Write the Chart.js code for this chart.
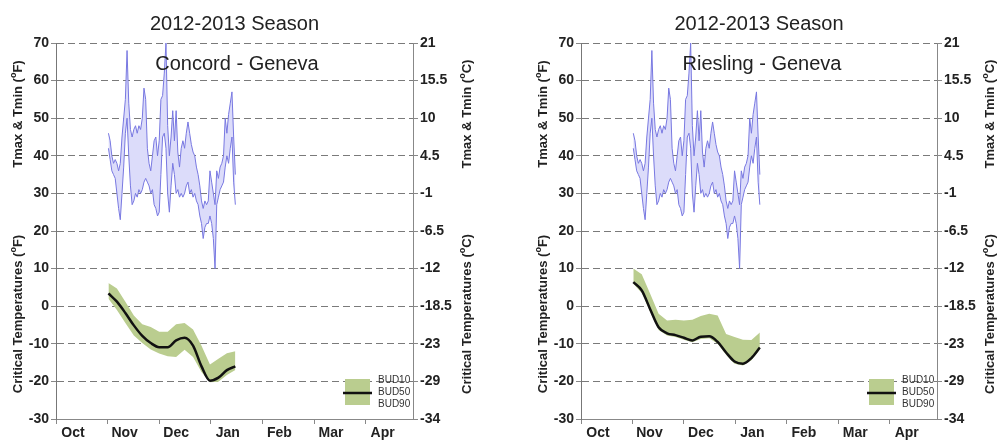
<!DOCTYPE html>
<html>
<head>
<meta charset="utf-8">
<script src="https://cdn.jsdelivr.net/npm/chart.js@4.4.1/dist/chart.umd.min.js"></script>
<style>
  html, body { margin: 0; padding: 0; background: #fff; }
  .box { position: absolute; top: 0; height: 440px; }
</style>
</head>
<body>
<div class="box" style="left:0;width:500px"><canvas id="concord"></canvas></div>
<div class="box" style="left:500px;width:499px"><canvas id="riesling"></canvas></div>
<script>
// daily air temperature at Geneva, first value = Nov 1 (day 31 after Oct 1)
const firstDay = 31
const tmax = [46,44,40,38,39,38,36,38,45,50, 55,68,54,47,45,47,48,46,48,47,
              50,58,55,42,38,36,40,44,45,40, 44,55,56,62,70,48,40,45,52,44,
              52,41,37,42,44,42,46,49,46,43, 41,40,37,35,32,28,26,28,27,28,
              36,33,30,27,36,34,37,38,40,50, 46,51,54,57,45,35]
const tmin = [42,39,36,35,34,30,26,23,30,37, 46,50,40,32,27,28,30,29,31,30,
              31,33,34,33,32,30,31,27,26,24, 25,35,45,46,42,30,25,32,38,35,
              30,31,29,30,29,30,32,33,30,31, 29,30,28,27,24,22,18,21,22,22,
              24,22,18,10,27,29,31,32,33,37, 40,38,42,45,33,27]

// critical temperatures (F), sampled days after Oct 1
const critDays = [31,36,41,46,51,56,61,66,71,76,81,86,91,96,101,106]
const concordBud10 = [6.2,4.7,1.2,-2.5,-4.8,-5.5,-6.8,-6.8,-4.8,-4.5,-6.2,-10.5,-15.5,-14.0,-12.5,-12.0]
const concordBud50 = [3.4,1.2,-1.8,-5.1,-7.9,-9.8,-10.9,-10.9,-9.1,-8.4,-10.5,-16.0,-19.8,-19.0,-17.0,-16.0]
const concordBud90 = [2.0,-1.0,-4.5,-7.8,-9.8,-11.5,-12.6,-13.3,-13.5,-11.6,-13.5,-17.5,-20.2,-20.1,-18.3,-17.0]
const rieslingBud10 = [10.0,8.5,3.3,-2.0,-3.8,-3.6,-3.8,-3.6,-2.6,-2.0,-2.5,-7.4,-8.2,-8.9,-9.0,-7.0]
const rieslingBud50 = [6.4,4.2,-0.8,-5.6,-7.2,-7.7,-8.4,-9.1,-8.1,-8.0,-9.5,-12.3,-14.7,-15.3,-13.8,-11.0]
const rieslingBud90 = [6.0,3.5,-1.5,-6.3,-7.8,-8.2,-8.9,-9.6,-8.7,-8.5,-10.0,-12.9,-15.3,-15.8,-14.4,-11.5]

const monthLabels = ['Oct','Nov','Dec','Jan','Feb','Mar','Apr']
const celsiusLabels = ['21','15.5','10','4.5','-1','-6.5','-12','-18.5','-23','-29','-34']
const legendLabels = ['BUD10','BUD50','BUD90']

const FONT = "'Liberation Sans', Arial, sans-serif"
const GREEN = 'rgb(186,205,143)'

function supTitle(ctx, x, y, pre, sup, post) {
  ctx.save()
  ctx.translate(x, y)
  ctx.rotate(-Math.PI / 2)
  ctx.fillStyle = '#222'
  ctx.textBaseline = 'middle'
  ctx.font = 'bold 13px ' + FONT
  const w1 = ctx.measureText(pre).width
  const w3 = ctx.measureText(post).width
  ctx.font = 'bold 9px ' + FONT
  const w2 = ctx.measureText(sup).width
  let cx = -(w1 + w2 + w3) / 2
  ctx.textAlign = 'left'
  ctx.font = 'bold 13px ' + FONT
  ctx.fillText(pre, cx, 0)
  ctx.font = 'bold 9px ' + FONT
  ctx.fillText(sup, cx + w1, -4)
  ctx.font = 'bold 13px ' + FONT
  ctx.fillText(post, cx + w1 + w2, 0)
  ctx.restore()
}

const decor = {
  id: 'decor',
  afterDraw(chart, args, o) {
    const ctx = chart.ctx
    const a = chart.chartArea
    ctx.save()
    ctx.fillStyle = '#222'
    ctx.textAlign = 'center'
    ctx.textBaseline = 'alphabetic'
    ctx.font = '20px ' + FONT
    ctx.fillText('2012-2013 Season', (a.left + a.right) / 2, 30)
    ctx.fillText(o.name, o.nameX, 70)

    supTitle(ctx, o.leftTitleX, 114, 'Tmax & Tmin (', 'o', 'F)')
    supTitle(ctx, o.leftTitleX, 314, 'Critical Temperatures (', 'o', 'F)')
    supTitle(ctx, o.rightTitleX, 114, 'Tmax & Tmin (', 'o', 'C)')
    supTitle(ctx, o.rightTitleX, 314, 'Critical Temperatures (', 'o', 'C)')

    // legend
    const lx = a.right - 68
    ctx.fillStyle = GREEN
    ctx.fillRect(lx, 379, 25, 26)
    ctx.strokeStyle = '#111'
    ctx.lineWidth = 2.5
    ctx.beginPath()
    ctx.moveTo(lx - 2, 393)
    ctx.lineTo(lx + 27, 393)
    ctx.stroke()
    ctx.fillStyle = '#333'
    ctx.textAlign = 'left'
    ctx.textBaseline = 'middle'
    ctx.font = '10px ' + FONT
    legendLabels.forEach((t, i) => ctx.fillText(t, lx + 33, 380 + i * 12))
    ctx.restore()
  }
}

function makeChart(id, bud10, bud50, bud90, o) {
  const toPts = (arr) => arr.map((v, i) => ({ x: critDays[i], y: v }))
  const daily = (arr) => arr.map((v, i) => ({ x: firstDay + i, y: v }))
  const tickFont = { family: FONT, size: 14, weight: 'bold' }
  new Chart(document.getElementById(id), {
    type: 'line',
    data: {
      datasets: [
        { label: 'Tmax', data: daily(tmax), borderColor: 'rgb(120,120,225)', borderWidth: 1,
          pointRadius: 0, tension: 0, fill: false, order: 3 },
        { label: 'Tmin', data: daily(tmin), borderColor: 'rgb(120,120,225)', borderWidth: 1,
          pointRadius: 0, tension: 0, fill: '-1', backgroundColor: 'rgb(220,220,250)', order: 3 },
        { label: 'BUD10', data: toPts(bud10), borderWidth: 0, borderColor: GREEN,
          pointRadius: 0, tension: 0, fill: false, order: 2 },
        { label: 'BUD90', data: toPts(bud90), borderWidth: 0, borderColor: GREEN,
          pointRadius: 0, tension: 0, fill: '-1', backgroundColor: GREEN, order: 2 },
        { label: 'BUD50', data: toPts(bud50), borderColor: '#111', borderWidth: 2.5,
          pointRadius: 0, cubicInterpolationMode: 'monotone', fill: false, order: 1 }
      ]
    },
    options: {
      responsive: true,
      maintainAspectRatio: false,
      animation: false,
      layout: { padding: { top: 43, left: 0, right: 0, bottom: 0 } },
      plugins: { legend: { display: false }, tooltip: { enabled: false }, decor: o },
      scales: {
        x: {
          type: 'linear', min: 0, max: 211,
          afterBuildTicks: (s) => { s.ticks = monthLabels.map((m, i) => ({ value: i * 30.5 })) },
          afterFit: (s) => { s.height = 21 },
          grid: { drawOnChartArea: false, drawTicks: true, tickLength: 5, color: '#888' },
          border: { display: true, color: '#888', width: 1 },
          ticks: {
            autoSkip: false, maxRotation: 0, padding: 1, labelOffset: 17, color: '#222',
            font: tickFont,
            callback: (v, i) => monthLabels[i]
          }
        },
        y: {
          position: 'left', min: -30, max: 70,
          afterFit: (s) => { s.width = o.leftW },
          grid: { color: '#7a7a7a', tickLength: 5, tickBorderDash: [], tickColor: '#888' },
          border: { display: true, color: '#777', width: 1, dash: [7, 4] },
          ticks: { stepSize: 10, padding: 2, color: '#222', font: tickFont }
        },
        yc: {
          position: 'right', min: -30, max: 70,
          afterFit: (s) => { s.width = o.rightW },
          grid: { drawOnChartArea: false, tickLength: 5, color: '#888' },
          border: { display: true, color: '#888', width: 1 },
          ticks: {
            stepSize: 10, padding: 2, color: '#222', font: tickFont,
            callback: (v) => celsiusLabels[Math.round((70 - v) / 10)]
          }
        }
      }
    },
    plugins: [decor]
  })
}

makeChart('concord', concordBud10, concordBud50, concordBud90,
  { name: 'Concord - Geneva', nameX: 237, leftW: 56, rightW: 87, leftTitleX: 18, rightTitleX: 467 })
makeChart('riesling', rieslingBud10, rieslingBud50, rieslingBud90,
  { name: 'Riesling - Geneva', nameX: 262, leftW: 81, rightW: 62, leftTitleX: 43, rightTitleX: 490 })
</script>
</body>
</html>
